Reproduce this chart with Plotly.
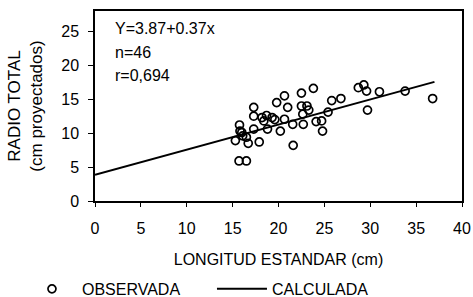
import plotly.graph_objects as go

obs_x = [15.3, 15.75, 15.8, 15.7, 16.5, 16.1, 16.7, 16.5, 17.3, 17.3, 17.3, 17.9,
         18.2, 18.4, 18.7, 18.8, 19.3, 19.8, 19.6, 20.2, 20.65, 20.65, 21.0, 21.55,
         21.6, 22.5, 22.5, 22.65, 22.7, 23.1, 23.3, 23.8, 24.1, 24.7, 24.8, 25.4,
         25.8, 26.8, 28.7, 29.3, 29.6, 29.7, 31.0, 33.8, 36.8, 16.0]
obs_y = [8.9, 11.2, 10.3, 5.9, 5.9, 9.6, 8.5, 9.4, 13.8, 12.5, 10.6, 8.7,
         12.3, 11.8, 12.6, 10.6, 12.3, 14.5, 12.0, 10.3, 15.5, 12.05, 13.8, 11.3,
         8.2, 15.9, 14.0, 12.8, 11.3, 14.0, 13.4, 16.6, 11.7, 11.8, 10.3, 13.1,
         14.8, 15.1, 16.7, 17.1, 16.2, 13.4, 16.1, 16.2, 15.1, 10.1]

calc_x = [0, 37]
calc_y = [3.87, 17.56]

x_ticks = [0, 5, 10, 15, 20, 25, 30, 35, 40]
y_ticks = [0, 5, 10, 15, 20, 25]

stats_text = ["Y=3.87+0.37x", "n=46", "r=0,694"]

FONT = "Liberation Sans, Arial, sans-serif"

fig = go.Figure()
fig.add_trace(go.Scatter(
    x=obs_x, y=obs_y, mode="markers", name="OBSERVADA",
    marker=dict(symbol="circle-open", size=8, color="black", line=dict(width=1.7)),
))
fig.add_trace(go.Scatter(
    x=calc_x, y=calc_y, mode="lines", name="CALCULADA",
    line=dict(color="black", width=2),
))

for i, t in enumerate(stats_text):
    fig.add_annotation(
        xref="paper", yref="paper", x=0.05, y=0.91 - i * 0.126,
        xanchor="left", yanchor="middle", text=t, showarrow=False,
        font=dict(size=16, color="black", family=FONT),
    )

fig.update_xaxes(
    range=[0, 40], tickvals=x_ticks, ticks="outside", ticklen=4,
    tickwidth=1, tickcolor="black", showline=True, linecolor="black",
    linewidth=1.5, mirror=True, showgrid=False, zeroline=False,
    ticklabelstandoff=8, automargin=False,
    tickfont=dict(size=16, color="black", family=FONT),
    title=dict(text="LONGITUD ESTANDAR (cm)", standoff=18,
               font=dict(size=16, color="black", family=FONT)),
)
fig.update_yaxes(
    range=[0, 28], tickvals=y_ticks, ticks="outside", ticklen=5,
    tickwidth=1, tickcolor="black", showline=True, linecolor="black",
    linewidth=1.5, mirror=True, showgrid=False, zeroline=False,
    ticklabelstandoff=6, automargin=False,
    tickfont=dict(size=16, color="black", family=FONT),
    title=dict(text="RADIO TOTAL<br>(cm proyectados)", standoff=14,
               font=dict(size=17, color="black", family=FONT)),
)

fig.update_layout(
    width=473, height=297,
    margin=dict(l=95, r=11, t=11, b=96, autoexpand=False),
    paper_bgcolor="white", plot_bgcolor="white",
    showlegend=True,
    legend=dict(
        orientation="h", x=-0.199, y=-0.463, xanchor="left", yanchor="middle",
        entrywidth=125, entrywidthmode="pixels", itemwidth=50,
        font=dict(size=16, color="black", family=FONT),
        bgcolor="rgba(0,0,0,0)",
    ),
)

fig.write_html("out.html", config={"displayModeBar": False},
               post_script="document.body.style.margin='0';document.body.style.overflow='hidden';")
